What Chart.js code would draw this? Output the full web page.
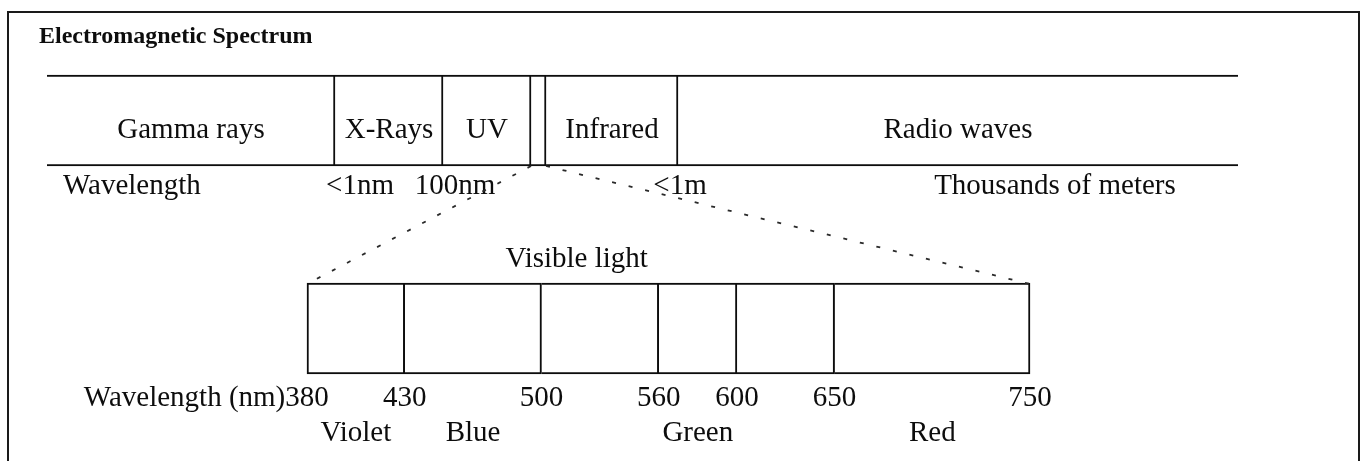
<!DOCTYPE html>
<html>
<head>
<meta charset="utf-8">
<script src="https://cdn.jsdelivr.net/npm/chart.js@4.4.1/dist/chart.umd.min.js"></script>
<style>
  html, body { margin: 0; padding: 0; background: #fff; overflow: hidden; }
  #wrap { position: relative; width: 1363px; height: 461px; }
  #frame { position: absolute; left: 7px; top: 11px; width: 1353px; height: 470px;
           box-sizing: border-box; border: 2px solid #1a1a1a; border-bottom: none; pointer-events: none; }
  canvas { position: absolute; left: 0; top: 0; }
</style>
</head>
<body>
<div id="wrap">
  <canvas id="c" width="1363" height="461"></canvas>
  <div id="frame"></div>
</div>
<script>
// ---------------- data ----------------
const chartTitle = 'Electromagnetic Spectrum';
// schematic (not to scale) share of the spectrum strip, in %
const spectrumBands = ['Gamma rays', 'X-Rays', 'UV', 'Visible', 'Infrared', 'Radio waves'];
const spectrumShare = [24.18, 9.07, 7.39, 1.26, 11.08, 47.02];
const spectrumShowName = [true, true, true, false, true, true];
const wavelengthTitle = 'Wavelength';
const wavelengthMarks = ['<1nm', '100nm', '<1m', 'Thousands of meters'];
const visibleTitle = 'Visible light';
const visibleAxisTitle = 'Wavelength (nm)';
const visibleBounds = [380, 430, 500, 560, 600, 650, 750];
const visibleColours = ['Violet', 'Blue', '', 'Green', '', 'Red'];

// ---------------- layout / style ----------------
const W = 1363, H = 461;
const layout = {
  stripLeft: 47, stripRight: 1238,     // pixel extent of the spectrum strip
  visLeft: 307, visRight: 1030,        // pixel extent of the visible-light box
  markPos: [26.28, 34.26, 53.15, 84.63], // annotation positions on strip axis (%)
  visibleTitlePos: 518,                // annotation position on nm axis
  rowPadTop: 16.5, rowPadBottom: 28.5,
  barThickness: 91
};
const ink = '#0d0d0d';
const serif = '"Liberation Serif", "Times New Roman", serif';
const fontMain = '29px ' + serif;

// axis ranges so that the hidden axes land where the picture wants them
const stripTotal = spectrumShare.reduce((a, b) => a + b, 0);
const stripRange = stripTotal * W / (layout.stripRight - layout.stripLeft);
const stripMin = -layout.stripLeft * stripRange / W;
const visLo = visibleBounds[0], visHi = visibleBounds[visibleBounds.length - 1];
const visRange = (visHi - visLo) * W / (layout.visRight - layout.visLeft);
const visMin = visLo - layout.visLeft * visRange / W;

// ---------------- datasets ----------------
const datasets = [];
let acc = 0;
spectrumBands.forEach((name, i) => {
  const start = acc, end = acc + spectrumShare[i];
  acc = end;
  datasets.push({
    label: name, kind: 'strip', showName: spectrumShowName[i],
    xAxisID: 'xs', data: [[start, end], null],
    backgroundColor: '#ffffff', borderColor: ink, borderSkipped: false,
    borderWidth: { top: 2, bottom: 2, left: 0, right: i < spectrumBands.length - 1 ? 2 : 0 },
    barThickness: layout.barThickness, grouped: false
  });
});
for (let i = 0; i < visibleBounds.length - 1; i++) {
  datasets.push({
    label: visibleColours[i] || ('band ' + i), kind: 'visible', colour: visibleColours[i],
    xAxisID: 'xv', data: [null, [visibleBounds[i], visibleBounds[i + 1]]],
    backgroundColor: '#ffffff', borderColor: ink, borderSkipped: false,
    borderWidth: { top: 2, bottom: 2, left: i === 0 ? 2 : 0, right: 2 },
    barThickness: layout.barThickness, grouped: false
  });
}

// ---------------- annotation plugin ----------------
const annotate = {
  id: 'annotate',
  afterDatasetsDraw(chart) {
    const ctx = chart.ctx;
    const xs = chart.scales.xs, xv = chart.scales.xv;
    const ds = chart.data.datasets;
    const stripEls = [], visEls = [];
    ds.forEach((d, i) => {
      const meta = chart.getDatasetMeta(i);
      if (d.kind === 'strip') stripEls.push({ d, el: meta.data[0] });
      else visEls.push({ d, el: meta.data[1] });
    });
    ctx.save();
    ctx.fillStyle = ink;

    // title
    ctx.font = 'bold 24px ' + serif;
    ctx.textAlign = 'left';
    ctx.textBaseline = 'alphabetic';
    ctx.fillText(chartTitle, 39, 43);

    // band names
    ctx.font = fontMain;
    ctx.textAlign = 'center';
    stripEls.forEach(({ d, el }) => {
      if (!d.showName) return;
      const cx = (el.x + el.base) / 2;
      ctx.fillText(d.label, cx, el.y + 17);
    });

    // wavelength row under strip
    const stripBottom = stripEls[0].el.y + stripEls[0].el.height / 2;
    const markY = stripBottom + 28;
    ctx.textAlign = 'left';
    ctx.fillText(wavelengthTitle, 63, markY);
    ctx.textAlign = 'center';
    wavelengthMarks.forEach((m, i) => {
      ctx.fillText(m, xs.getPixelForValue(layout.markPos[i]), markY);
    });

    // dashed zoom lines from visible slice to the visible-light box
    const vis = stripEls.find(s => s.d.label === 'Visible').el;
    const vFirst = visEls[0].el, vLast = visEls[visEls.length - 1].el;
    const boxTop = vFirst.y - vFirst.height / 2 + 1;
    ctx.strokeStyle = '#2a2a2a';
    ctx.lineWidth = 1.8;
    ctx.setLineDash([4, 13]);
    ctx.beginPath();
    ctx.moveTo(Math.min(vis.x, vis.base), stripBottom);
    ctx.lineTo(Math.min(vFirst.x, vFirst.base), boxTop);
    ctx.moveTo(Math.max(vis.x, vis.base), stripBottom);
    ctx.lineTo(Math.max(vLast.x, vLast.base), boxTop);
    ctx.stroke();
    ctx.setLineDash([]);

    // visible light title
    ctx.textAlign = 'center';
    ctx.fillText(visibleTitle, xv.getPixelForValue(layout.visibleTitlePos), boxTop - 17);

    // tick labels
    const boxBottom = vFirst.y + vFirst.height / 2;
    const tickY = boxBottom + 32;
    visibleBounds.forEach(v => {
      ctx.fillText(String(v), xv.getPixelForValue(v), tickY);
    });
    const firstW = ctx.measureText(String(visibleBounds[0])).width;
    ctx.textAlign = 'right';
    ctx.fillText(visibleAxisTitle, xv.getPixelForValue(visibleBounds[0]) - firstW / 2, tickY);

    // colour names
    ctx.textAlign = 'center';
    visEls.forEach(({ d, el }) => {
      if (!d.colour) return;
      ctx.fillText(d.colour, (el.x + el.base) / 2, boxBottom + 67);
    });
    ctx.restore();
  }
};

new Chart(document.getElementById('c'), {
  type: 'bar',
  data: { labels: ['Spectrum', 'Visible light'], datasets },
  options: {
    indexAxis: 'y',
    responsive: false,
    devicePixelRatio: 1,
    animation: false,
    layout: { padding: { top: layout.rowPadTop, bottom: layout.rowPadBottom, left: 0, right: 0 } },
    plugins: { legend: { display: false }, tooltip: { enabled: false }, title: { display: false } },
    scales: {
      y: { type: 'category', display: false, offset: true },
      xs: { type: 'linear', axis: 'x', position: 'bottom', display: false, min: stripMin, max: stripMin + stripRange },
      xv: { type: 'linear', axis: 'x', position: 'bottom', display: false, min: visMin, max: visMin + visRange }
    }
  },
  plugins: [annotate]
});
</script>
</body>
</html>
